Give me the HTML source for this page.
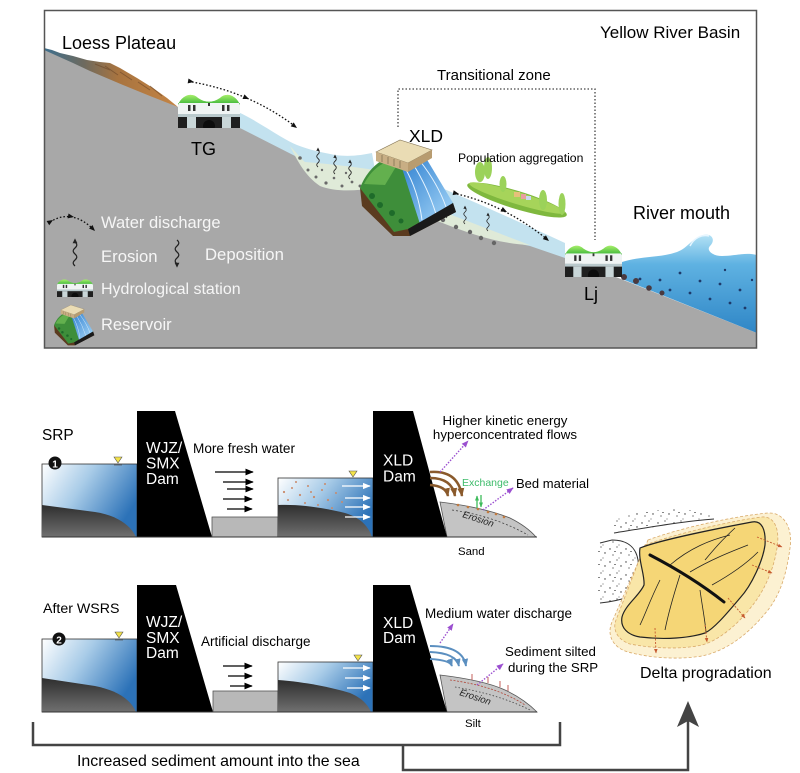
<!DOCTYPE html>
<html><head><meta charset="utf-8"><style>
html,body{margin:0;padding:0;background:#fff;}
svg{display:block;}
text{font-family:"Liberation Sans",Arial,sans-serif;}
</style></head><body>
<svg width="800" height="773" viewBox="0 0 800 773" xmlns="http://www.w3.org/2000/svg" xmlns:xlink="http://www.w3.org/1999/xlink">
<defs>
 <linearGradient id="mtn" x1="0" y1="0" x2="1" y2="0">
  <stop offset="0" stop-color="#3d6f8e"/><stop offset="0.3" stop-color="#6e6a5e"/><stop offset="0.55" stop-color="#a87440"/><stop offset="1" stop-color="#c48444"/>
 </linearGradient>
 <linearGradient id="grn" x1="0" y1="0" x2="0" y2="1"><stop offset="0" stop-color="#a6ee6a"/><stop offset="1" stop-color="#35b236"/></linearGradient>
 <linearGradient id="sea" x1="0" y1="0" x2="0" y2="1"><stop offset="0" stop-color="#b4e2f5"/><stop offset="0.3" stop-color="#5fb2e2"/><stop offset="1" stop-color="#2f86c6"/></linearGradient>
 <linearGradient id="res" x1="0" y1="0" x2="1" y2="0.5"><stop offset="0" stop-color="#ffffff"/><stop offset="0.45" stop-color="#a9cce8"/><stop offset="1" stop-color="#2c72b8"/></linearGradient>
 <linearGradient id="sed" x1="0" y1="0" x2="0" y2="1"><stop offset="0" stop-color="#2e2e2e"/><stop offset="1" stop-color="#707070"/></linearGradient>
 <linearGradient id="spill" x1="0" y1="0" x2="1" y2="1"><stop offset="0" stop-color="#2e7fd0"/><stop offset="1" stop-color="#a8d8f8"/></linearGradient>
 <pattern id="stip" width="16" height="13" patternUnits="userSpaceOnUse"><g fill="#333"><circle cx="2" cy="3" r=".7"/><circle cx="9" cy="1" r=".6"/><circle cx="13" cy="7" r=".7"/><circle cx="5" cy="9" r=".6"/><circle cx="11" cy="12" r=".5"/><rect x="6" y="5" width="2" height=".6"/></g></pattern>
 <marker id="ab" viewBox="0 0 10 10" refX="9" refY="5" markerWidth="7" markerHeight="7" orient="auto"><path d="M0,1 L10,5 L0,9 Z" fill="#000"/></marker>
 <marker id="aw" viewBox="0 0 10 10" refX="9" refY="5" markerWidth="6" markerHeight="6" orient="auto"><path d="M0,1 L10,5 L0,9 Z" fill="#fff"/></marker>
 <marker id="ap" viewBox="0 0 10 10" refX="9" refY="5" markerWidth="5" markerHeight="5" orient="auto"><path d="M0,1 L10,5 L0,9 Z" fill="#9b4fd0"/></marker>
 <marker id="abr" viewBox="0 0 10 10" refX="9" refY="5" markerWidth="3.5" markerHeight="3.5" orient="auto"><path d="M0,1 L10,5 L0,9 Z" fill="#8a5a2c"/></marker>
 <marker id="abl" viewBox="0 0 10 10" refX="9" refY="5" markerWidth="4" markerHeight="4" orient="auto"><path d="M0,1 L10,5 L0,9 Z" fill="#5b8fc0"/></marker>
 <marker id="ar" viewBox="0 0 10 10" refX="9" refY="5" markerWidth="5" markerHeight="5" orient="auto"><path d="M0,1 L10,5 L0,9 Z" fill="#c65a30"/></marker>
 <marker id="ag" viewBox="0 0 10 10" refX="9" refY="5" markerWidth="4" markerHeight="4" orient="auto"><path d="M0,1 L10,5 L0,9 Z" fill="#3dbb5a"/></marker>
 <symbol id="stn" viewBox="0 0 62 36" preserveAspectRatio="none">
  <path d="M0,13 C4,3 14,0 20,6 C27,11 35,11 42,6 C48,0 58,3 62,13 L62,16 L0,16 Z" fill="url(#grn)"/>
  <rect x="0" y="11" width="62" height="11" fill="#f0f4f4"/>
  <path d="M0,13 C4,3 14,0 20,6 C27,11 35,11 42,6 C48,0 58,3 62,13 L62,11 L0,11 Z" fill="url(#grn)"/>
  <g fill="#333"><rect x="10" y="13" width="2.5" height="6"/><rect x="15" y="13" width="2.5" height="6"/><rect x="44" y="13" width="2.5" height="6"/><rect x="49" y="13" width="2.5" height="6"/><rect x="30" y="11" width="2" height="3"/></g>
  <rect x="0" y="22" width="62" height="3" fill="#b9c9cc"/>
  <rect x="0" y="25" width="62" height="11" fill="#1f1f1f"/>
  <rect x="9" y="25" width="9" height="11" fill="#c9d6d8"/>
  <rect x="44" y="25" width="9" height="11" fill="#c9d6d8"/>
  <circle cx="31" cy="34" r="6" fill="#0c0c0c"/>
 </symbol>
 <g id="resv">
  <path d="M360,188 L362,206 L393,236 L410,236 L456,212 L453,203 Z" fill="#5b3b1f"/>
  <path d="M360,188 C366,172 378,160 392,156 L418,156 L453,203 L408,229 L394,232 Z" fill="#3e8e3a"/>
  <path d="M364,184 C370,172 380,163 392,160 L400,160 L385,185 Z" fill="#63b04e"/>
  <path d="M400,162 L426,158 L453,203 L420,224 Z" fill="url(#spill)"/>
  <path d="M405,168 Q418,190 422,220 M413,164 Q428,188 436,214 M420,161 Q438,184 446,207" stroke="#e6f4ff" stroke-width="1" fill="none"/>
  <path d="M408,229 L453,203 L456,212 L410,236 Z" fill="#1a1a1a"/>
  <polygon points="376,152 400,140 432,150 408,163" fill="#eadcb4" stroke="#8a7a5a" stroke-width=".6"/>
  <polygon points="376,152 408,163 408,172 376,161" fill="#c8ae84"/>
  <polygon points="408,163 432,150 432,158 408,172" fill="#b89c70"/>
  <g stroke="#7a6a4a" stroke-width=".7"><line x1="382" y1="155" x2="382" y2="162"/><line x1="388" y1="157" x2="388" y2="164"/><line x1="394" y1="159" x2="394" y2="166"/><line x1="400" y1="161" x2="400" y2="168"/></g>
  <g fill="#1e6b2a"><circle cx="372" cy="196" r="3"/><circle cx="380" cy="205" r="3"/><circle cx="392" cy="213" r="3"/><circle cx="401" cy="221" r="2.5"/></g>
 </g>
 <g id="ero"><path d="M0,0 q3,2.5 0,5 q-3,2.5 0,5 q3,2.5 0,5 q-3,2.5 0,5" fill="none" stroke="#222" stroke-width="1"/><polygon points="0,-3 -2,1 2,1" fill="#222"/></g>
 <g id="dep"><path d="M0,0 q3,2.5 0,5 q-3,2.5 0,5 q3,2.5 0,5 q-3,2.5 0,5" fill="none" stroke="#222" stroke-width="1"/><polygon points="0,23 -2,19 2,19" fill="#222"/></g>
</defs>

<!-- ===== TOP PANEL ===== -->
<rect x="44.5" y="10.5" width="712" height="337.5" fill="#fff"/>
<polygon points="44,50 178,107 240,128 757,333 757,348 44,348" fill="#a8a8a8"/>
<!-- mountain -->
<path d="M44,48 L52,50 L60,53 L73,56 L87,60 L100,62 L110,63 L120,68 L137,78 L153,88 L167,98 L178,107 L150,96 L123,85 L90,71 L73,63 L44,50 Z" fill="url(#mtn)"/>
<path d="M95,64 L110,70 M120,72 L132,80 M138,82 L150,90 M105,66 L118,75 M150,86 L162,96" stroke="#6b4628" stroke-width="1" fill="none" opacity=".6"/>
<!-- water 1 -->
<path d="M238,112 C260,122 280,138 297,145 C310,150 320,152 335,155 C350,157 362,155 372,153 L375,170 C350,168 320,165 303,163 L297,157 L240,128 Z" fill="#c3e2ef"/>
<path d="M290,146 C296,152 300,158 305,162 C330,164 355,167 375,170 L375,188 C355,191 335,192 320,186 C305,176 297,160 290,146 Z" fill="#dfead8"/>
<g fill="#6a6a6a"><circle cx="300" cy="158" r="1.8"/><circle cx="308" cy="170" r="1.5"/><circle cx="316" cy="177" r="1.5"/><circle cx="326" cy="183" r="1.6"/><circle cx="334" cy="178" r="1.3"/><circle cx="342" cy="186" r="1.5"/><circle cx="352" cy="182" r="1.4"/><circle cx="360" cy="186" r="1.5"/><circle cx="322" cy="170" r="1.2"/><circle cx="346" cy="173" r="1.2"/></g>
<!-- water 2 -->
<path d="M430,183 C470,200 520,222 565,243 L565,258 L530,246 C500,240 470,230 440,220 L430,216 Z" fill="#c3e2ef"/>
<path d="M412,200 C450,214 495,232 530,245 C500,244 470,234 440,222 C425,216 415,212 412,210 Z" fill="#dfead8"/>
<g fill="#666"><circle cx="427" cy="213" r="2.2"/><circle cx="443" cy="220" r="2.2"/><circle cx="456" cy="227" r="2.2"/><circle cx="470" cy="232" r="2.2"/><circle cx="481" cy="238" r="2.2"/><circle cx="494" cy="243" r="2.2"/></g>
<!-- squiggles top -->
<use href="#ero" xlink:href="#ero" transform="translate(318,150) scale(0.85)"/>
<use href="#ero" xlink:href="#ero" transform="translate(335,157) scale(0.85)"/>
<use href="#ero" xlink:href="#ero" transform="translate(350,162) scale(0.85)"/>
<use href="#ero" xlink:href="#ero" transform="translate(447,202) scale(0.8)"/>
<use href="#ero" xlink:href="#ero" transform="translate(465,208) scale(0.8)"/>
<use href="#ero" xlink:href="#ero" transform="translate(488,215) scale(0.8)"/>
<!-- population hill -->
<ellipse cx="517" cy="200" rx="52" ry="9" transform="rotate(17 517 200)" fill="#7fb83e"/>
<ellipse cx="517" cy="198" rx="50" ry="6" transform="rotate(17 517 198)" fill="#a6d45a"/>
<g fill="#9bd25a"><ellipse cx="480" cy="172" rx="5" ry="10"/><ellipse cx="488" cy="168" rx="4" ry="11"/><ellipse cx="503" cy="184" rx="3.5" ry="8"/><ellipse cx="543" cy="200" rx="4" ry="10"/><ellipse cx="562" cy="204" rx="3.5" ry="11"/></g>
<g fill="#e6c07a"><rect x="514" y="192" width="6" height="5"/><rect x="521" y="194" width="5" height="5" fill="#e8a0a0"/><rect x="526" y="196" width="5" height="4" fill="#c9d9f0"/></g>
<!-- reservoir XLD -->
<use href="#resv" xlink:href="#resv"/>
<!-- stations -->
<use href="#stn" xlink:href="#stn" x="178" y="92" width="62" height="36"/>
<!-- ocean -->
<path d="M622,262 C640,256 660,258 677,252 C688,248 692,238 703,235 C712,233 716,240 710,246 C706,250 712,256 722,256 C735,256 745,252 757,255 L757,333 L622,279 Z" fill="url(#sea)"/>
<path d="M690,246 C694,238 702,234 709,236" stroke="#e8f6ff" stroke-width="1.5" fill="none"/>
<g fill="#1e3a6a"><circle cx="640" cy="279" r="1.4"/><circle cx="660" cy="280" r="1.4"/><circle cx="680" cy="273" r="1.4"/><circle cx="700" cy="281" r="1.4"/><circle cx="720" cy="284" r="1.4"/><circle cx="740" cy="290" r="1.4"/><circle cx="690" cy="293" r="1.4"/><circle cx="710" cy="299" r="1.4"/><circle cx="730" cy="303" r="1.4"/><circle cx="745" cy="308" r="1.4"/><circle cx="670" cy="290" r="1.4"/><circle cx="752" cy="280" r="1.2"/><circle cx="725" cy="270" r="1.2"/></g>
<g fill="#4a3a40"><circle cx="624" cy="277" r="3"/><circle cx="636" cy="281" r="3"/><circle cx="649" cy="288" r="2.8"/><circle cx="662" cy="293" r="2.5"/></g>
<use href="#stn" xlink:href="#stn" x="565" y="243" width="57" height="34"/>
<!-- dotted water discharge arrows -->
<path d="M192,82 Q250,92 296,127" fill="none" stroke="#111" stroke-width="1.3" stroke-dasharray="1.6,2"/>
<polygon points="0,0 -6,-2.5 -6,2.5" fill="#111" transform="translate(194,82) rotate(10)"/>
<polygon points="0,0 -6,-2.5 -6,2.5" fill="#111" transform="translate(249,99) rotate(23)"/>
<polygon points="0,0 -6,-2.5 -6,2.5" fill="#111" transform="translate(297,128) rotate(37)"/>
<path d="M457,194 Q505,205 548,240" fill="none" stroke="#111" stroke-width="1.3" stroke-dasharray="1.6,2"/>
<polygon points="0,0 -6,-2.5 -6,2.5" fill="#111" transform="translate(459,194) rotate(13)"/>
<polygon points="0,0 -6,-2.5 -6,2.5" fill="#111" transform="translate(507,212) rotate(27)"/>
<polygon points="0,0 -6,-2.5 -6,2.5" fill="#111" transform="translate(549,241) rotate(39)"/>
<!-- transitional zone box -->
<path d="M398,127 L398,89 L595,89 L595,240" fill="none" stroke="#444" stroke-width="1.3" stroke-dasharray="1.5,2"/>
<!-- legend -->
<path d="M50,222 Q72,208 94,230" fill="none" stroke="#111" stroke-width="1.3" stroke-dasharray="1.6,2"/>
<polygon points="0,0 -6,-2.5 -6,2.5" fill="#111" transform="translate(53,220) rotate(-32)"/>
<polygon points="0,0 -6,-2.5 -6,2.5" fill="#111" transform="translate(74,217) rotate(10)"/>
<polygon points="0,0 -6,-2.5 -6,2.5" fill="#111" transform="translate(95,231) rotate(45)"/>
<use href="#ero" xlink:href="#ero" transform="translate(75,242) scale(1.2)"/>
<use href="#dep" xlink:href="#dep" transform="translate(177,240) scale(1.2)"/>
<use href="#stn" xlink:href="#stn" x="57" y="278" width="36" height="19"/>
<use href="#resv" xlink:href="#resv" transform="translate(-97.2,246.2) scale(0.42)"/>
<g fill="#f6f6f6">
<text x="101" y="228" font-size="16.5">Water discharge</text>
<text x="101" y="262" font-size="16.7">Erosion</text>
<text x="205" y="260" font-size="16.7">Deposition</text>
<text x="101" y="294" font-size="16">Hydrological station</text>
<text x="101" y="330" font-size="16.5">Reservoir</text>
</g>
<!-- top labels -->
<text x="62" y="49" font-size="18">Loess Plateau</text>
<text x="600" y="38" font-size="17">Yellow River Basin</text>
<text x="437" y="80" font-size="15">Transitional zone</text>
<text x="409" y="142" font-size="17.5">XLD</text>
<text x="458" y="162" font-size="12.2">Population aggregation</text>
<text x="633" y="219" font-size="18">River mouth</text>
<text x="191" y="155" font-size="18">TG</text>
<text x="584" y="300" font-size="18">Lj</text>
<rect x="44.5" y="10.5" width="712" height="337.5" fill="none" stroke="#555" stroke-width="1.5"/>

<!-- ===== ROW 1 (SRP) ===== -->
<text x="42" y="440" font-size="15.4">SRP</text>
<rect x="42" y="464" width="95" height="73" fill="url(#res)" stroke="#333" stroke-width=".8"/>
<path d="M42,505 L95,512 C115,515 130,524 136,537 L42,537 Z" fill="url(#sed)"/>
<circle cx="55" cy="463" r="6.5" fill="#111"/>
<text x="55" y="467.5" font-size="10" fill="#fff" text-anchor="middle" font-weight="bold">1</text>
<polygon points="114,457 122,457 118,463" fill="#f3e24a" stroke="#555" stroke-width=".6"/>
<line x1="114" y1="465" x2="122" y2="465" stroke="#555" stroke-width=".7"/>
<polygon points="137,411 175,411 212,537 137,537" fill="#000"/>
<g fill="#fff" font-size="15.5"><text x="146" y="453">WJZ/</text><text x="146" y="468.5">SMX</text><text x="146" y="484">Dam</text></g>
<text x="193" y="453" font-size="13.6">More fresh water</text>
<g stroke="#000" stroke-width="1.2" marker-end="url(#ab)">
<line x1="215" y1="472" x2="253" y2="472"/><line x1="223" y1="482" x2="253" y2="482"/><line x1="227" y1="489" x2="253" y2="489"/><line x1="223" y1="499" x2="252" y2="499"/><line x1="227" y1="509" x2="252" y2="509"/></g>
<rect x="212" y="517" width="66" height="20" fill="#b8b8b8" stroke="#555" stroke-width=".8"/>
<rect x="278" y="478" width="95" height="59" fill="url(#res)" stroke="#333" stroke-width=".8"/>
<path d="M278,505 C300,504 325,508 345,513 C362,518 369,528 372,537 L278,537 Z" fill="url(#sed)"/>
<g fill="#c98a6a"><circle cx="284" cy="492" r="1.1"/><circle cx="292" cy="488" r="1"/><circle cx="300" cy="495" r="1.1"/><circle cx="308" cy="486" r="1"/><circle cx="314" cy="497" r="1.1"/><circle cx="322" cy="490" r="1"/><circle cx="328" cy="500" r="1.1"/><circle cx="336" cy="493" r="1"/><circle cx="288" cy="500" r="1"/><circle cx="305" cy="503" r="1"/><circle cx="318" cy="505" r="1"/><circle cx="332" cy="508" r="1"/><circle cx="296" cy="482" r="1"/><circle cx="325" cy="484" r="1"/><circle cx="342" cy="502" r="1"/><circle cx="311" cy="492" r="1"/></g>
<polygon points="349,471 357,471 353,477" fill="#f3e24a" stroke="#555" stroke-width=".6"/>
<g stroke="#fff" stroke-width="1.3" marker-end="url(#aw)">
<line x1="342" y1="486" x2="370" y2="486"/><line x1="345" y1="498" x2="370" y2="498"/><line x1="345" y1="507" x2="370" y2="507"/><line x1="345" y1="517" x2="370" y2="517"/></g>
<path d="M440,502 C465,505 490,510 510,518 C522,524 530,530 536,537 L447,537 Z" fill="#c4c4c4" stroke="#555" stroke-width=".8"/>
<path d="M452,510 C480,514 505,522 528,535" fill="none" stroke="#444" stroke-width=".8" stroke-dasharray="2,2"/>
<g fill="#c07a40"><circle cx="458" cy="505" r="1.3"/><circle cx="468" cy="507" r="1.3"/><circle cx="478" cy="509" r="1.3"/><circle cx="488" cy="512" r="1.3"/><circle cx="496" cy="514" r="1.3"/><circle cx="504" cy="517" r="1.3"/></g>
<polygon points="373,411 413,411 447,537 373,537" fill="#000"/>
<g fill="#fff" font-size="15.5"><text x="383" y="465.5">XLD</text><text x="383" y="481.5">Dam</text></g>
<g fill="none" stroke="#8a5a2c" stroke-width="2.5">
<path d="M430,472 Q458,470 462,496" marker-end="url(#abr)"/>
<path d="M430,478 Q452,478 455,496" marker-end="url(#abr)"/>
<path d="M430,485 Q446,486 448,496" marker-end="url(#abr)"/></g>
<g fill="none" stroke="#9b4fd0" stroke-width="1.4" stroke-dasharray="1.5,1.5">
<path d="M440,472 L468,441" marker-end="url(#ap)"/>
<path d="M483,510 L513,488" marker-end="url(#ap)"/></g>
<g stroke="#3dbb5a" stroke-width="1.3"><line x1="477" y1="508" x2="477" y2="496" marker-end="url(#ag)"/><line x1="481" y1="495" x2="481" y2="507" marker-end="url(#ag)"/></g>
<text x="462" y="486" font-size="10.5" fill="#3dbb6a">Exchange</text>
<text x="516" y="488" font-size="13">Bed material</text>
<text transform="translate(462,517) rotate(18)" font-size="9.5" font-style="italic" fill="#222">Erosion</text>
<text x="505" y="425" font-size="13.3" text-anchor="middle">Higher kinetic energy</text>
<text x="505" y="439" font-size="13.3" text-anchor="middle">hyperconcentrated flows</text>
<text x="458" y="555" font-size="11.4">Sand</text>
<line x1="42" y1="537" x2="537" y2="537" stroke="#333" stroke-width="1"/>

<!-- ===== ROW 2 (After WSRS) ===== -->
<text x="43" y="613" font-size="14.2">After WSRS</text>
<rect x="42" y="639" width="95" height="73" fill="url(#res)" stroke="#333" stroke-width=".8"/>
<path d="M42,678 L95,686 C115,690 130,698 136,712 L42,712 Z" fill="url(#sed)"/>
<circle cx="59" cy="639" r="6.5" fill="#111"/>
<text x="59" y="643.5" font-size="10" fill="#fff" text-anchor="middle" font-weight="bold">2</text>
<polygon points="115,632 123,632 119,638" fill="#f3e24a" stroke="#555" stroke-width=".6"/>
<line x1="115" y1="640" x2="123" y2="640" stroke="#555" stroke-width=".7"/>
<polygon points="137,585 176,585 213,712 137,712" fill="#000"/>
<g fill="#fff" font-size="15.5"><text x="146" y="627">WJZ/</text><text x="146" y="643">SMX</text><text x="146" y="658">Dam</text></g>
<text x="201" y="646" font-size="13.5">Artificial discharge</text>
<g stroke="#000" stroke-width="1.2" marker-end="url(#ab)">
<line x1="223" y1="666" x2="252" y2="666"/><line x1="228" y1="676" x2="252" y2="676"/><line x1="230" y1="686" x2="252" y2="686"/></g>
<rect x="213" y="691" width="65" height="21" fill="#b8b8b8" stroke="#555" stroke-width=".8"/>
<rect x="278" y="662" width="95" height="50" fill="url(#res)" stroke="#333" stroke-width=".8"/>
<path d="M278,680 C305,682 330,687 350,693 C362,698 368,705 371,712 L278,712 Z" fill="url(#sed)"/>
<polygon points="354,655 362,655 358,661" fill="#f3e24a" stroke="#555" stroke-width=".6"/>
<g stroke="#fff" stroke-width="1.3" marker-end="url(#aw)">
<line x1="343" y1="668" x2="370" y2="668"/><line x1="345" y1="678" x2="370" y2="678"/><line x1="347" y1="688" x2="370" y2="688"/></g>
<path d="M440,675 C465,678 490,683 505,690 C520,697 530,705 537,712 L447,712 Z" fill="#c4c4c4" stroke="#555" stroke-width=".8"/>
<path d="M450,680 C480,684 505,692 525,705" fill="none" stroke="#b0483a" stroke-width=".8" stroke-dasharray="2,1.5"/>
<path d="M455,687 C485,692 510,700 530,710" fill="none" stroke="#444" stroke-width=".8" stroke-dasharray="1.5,2"/>
<g stroke="#c0504a" stroke-width=".9"><line x1="472" y1="674" x2="472" y2="680"/><line x1="488" y1="677" x2="488" y2="683"/><line x1="500" y1="681" x2="500" y2="687"/><line x1="508" y1="685" x2="508" y2="691"/></g>
<polygon points="373,585 410,585 447,712 373,712" fill="#000"/>
<g fill="#fff" font-size="15.5"><text x="383" y="628">XLD</text><text x="383" y="643">Dam</text></g>
<g fill="none" stroke="#5b8fc0" stroke-width="2">
<path d="M430,646 Q463,646 466,666" marker-end="url(#abl)"/>
<path d="M430,652 Q456,653 459,666" marker-end="url(#abl)"/>
<path d="M430,659 Q450,660 452,666" marker-end="url(#abl)"/></g>
<g fill="none" stroke="#9b4fd0" stroke-width="1.4" stroke-dasharray="1.5,1.5">
<path d="M440,643 L453,624" marker-end="url(#ap)"/>
<path d="M477,685 L503,664" marker-end="url(#ap)"/></g>
<text x="425" y="618" font-size="13.5">Medium water discharge</text>
<text x="505" y="656" font-size="13.3">Sediment silted</text>
<text x="508" y="672" font-size="13.3">during the SRP</text>
<text transform="translate(459,695) rotate(18)" font-size="9.5" font-style="italic" fill="#222">Erosion</text>
<text x="465" y="727" font-size="11.4">Silt</text>
<line x1="42" y1="712" x2="537" y2="712" stroke="#333" stroke-width="1"/>

<!-- bracket -->
<path d="M33,722 L33,745 L560,745 L560,722" fill="none" stroke="#444" stroke-width="2.5"/>
<path d="M403,745 L403,770 L688,770 L688,718" fill="none" stroke="#444" stroke-width="2.5"/>
<polygon points="688,701 677,727 688,721 699,727" fill="#444"/>
<text x="77" y="766" font-size="15.9">Increased sediment amount into the sea</text>

<!-- ===== DELTA ===== -->
<path d="M612,520 C630,512 660,508 690,510 C700,511 708,513 714,518 C690,521 650,528 616,533 Z" fill="url(#stip)"/>
<path d="M614,533 C645,528 685,521 714,519" fill="none" stroke="#333" stroke-width="1"/>
<path d="M598,545 L612,540 C628,540 636,548 638,560 C640,575 638,590 628,597 C620,600 610,602 598,603 Z" fill="url(#stip)"/>
<path d="M600,543 L612,540 C628,540 636,548 638,560 C640,575 638,590 628,597 C620,600 610,602 600,603" fill="none" stroke="#333" stroke-width="1"/>
<path d="M648,540 C680,528 735,516 768,513 C785,512 793,530 790,548 C787,570 782,592 768,610 C752,630 730,650 702,656 C678,660 650,658 628,652 C614,648 606,636 612,622 Z" fill="#fcf1d2" stroke="#d9aa6a" stroke-width=".8" stroke-dasharray="3,2"/>
<path d="M645,545 C675,534 735,520 762,517 C775,516 780,530 777,548 C774,568 765,590 752,606 C738,624 720,640 702,645 C680,650 650,648 630,644 C618,640 612,630 616,620 Z" fill="#f9e6a8" stroke="#d9aa6a" stroke-width=".8" stroke-dasharray="3,2"/>
<path d="M640,548 C660,540 720,528 752,522 C762,520 766,530 765,545 C763,560 752,585 740,598 C728,612 715,628 705,633 C690,638 665,640 640,637 C628,635 620,628 622,617 C625,605 640,595 644,585 C645,575 638,560 640,548 Z" fill="#f5d676" stroke="#222" stroke-width="1.2"/>
<g fill="none" stroke="#222" stroke-width=".8">
<path d="M670,565 C690,548 710,540 730,535"/><path d="M690,572 C710,560 730,552 748,545"/><path d="M660,580 C650,600 645,615 640,625"/><path d="M680,575 C672,600 668,615 665,630"/><path d="M700,590 C702,605 705,620 706,632"/><path d="M712,585 C730,575 745,565 758,552"/><path d="M705,560 C715,548 722,540 735,528"/></g>
<path d="M650,555 C675,568 700,583 724,602" fill="none" stroke="#111" stroke-width="3" stroke-linecap="round"/>
<g fill="none" stroke="#c65a30" stroke-width=".9" stroke-dasharray="2,1.5" marker-end="url(#ar)">
<path d="M757,537 L782,547"/><path d="M752,565 L772,573"/><path d="M728,598 L745,618"/><path d="M705,625 L707,642"/><path d="M655,628 L656,653"/></g>
<text x="640" y="678" font-size="16">Delta progradation</text>
</svg>
</body></html>
